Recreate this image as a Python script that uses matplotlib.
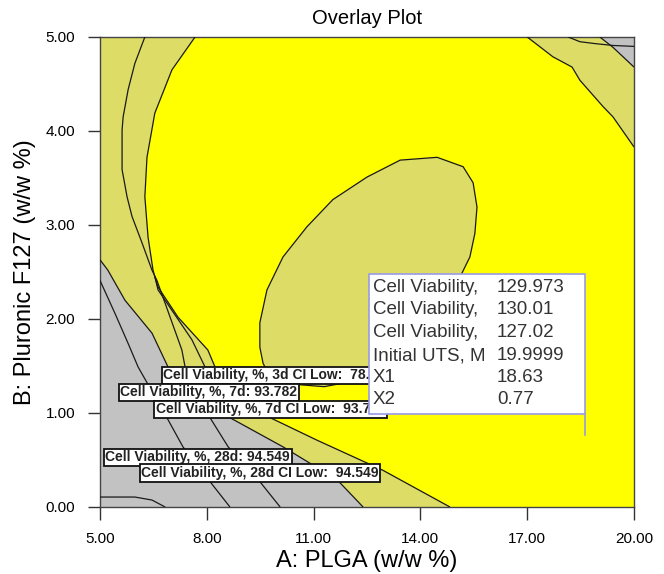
import matplotlib
matplotlib.use('Agg')
import matplotlib.pyplot as plt
from matplotlib.patches import Polygon, Rectangle

plt.rcParams['font.family'] = ['Liberation Sans', 'DejaVu Sans']

# ---------------- data ----------------
x_ticks = [5, 8, 11, 14, 17, 20]
y_ticks = [0, 1, 2, 3, 4, 5]

# left / lower boundary of the bright-yellow sweet spot (top -> bottom)
yel_left_x = [7.67, 7.02, 6.54, 6.32, 6.26, 6.35, 6.49, 6.54, 6.63, 7.19, 8.03, 8.23, 8.90, 9.78, 11.10, 12.95, 14.83]
yel_left_y = [5.00, 4.65, 4.19, 3.72, 3.30, 2.87, 2.52, 2.45, 2.34, 2.02, 1.67, 1.49, 1.22, 0.95, 0.71, 0.39, 0.00]

# upper-right boundary of the sweet spot (top -> right edge)
yel_right_x = [17.00, 17.72, 18.26, 18.48, 19.13, 19.41, 20.00]
yel_right_y = [5.00, 4.79, 4.68, 4.54, 4.26, 4.15, 3.83]

# boundary of the grey (infeasible) lower-left region
gray_x = [5.00, 5.22, 5.70, 6.46, 6.91, 7.80, 8.65, 10.14, 11.66, 12.39]
gray_y = [2.63, 2.52, 2.20, 1.85, 1.49, 1.20, 0.95, 0.64, 0.29, 0.00]

# contour lines inside the grey region
c7_x = [5.00, 5.42, 5.79, 6.07, 6.88, 7.33, 8.09, 8.65]
c7_y = [2.41, 2.06, 1.74, 1.49, 0.95, 0.64, 0.27, 0.00]
c28_x = [6.91, 8.09, 8.60, 9.49, 10.06]
c28_y = [1.49, 0.95, 0.64, 0.27, 0.00]
corner_x = [5.00, 5.98, 6.46, 6.83]
corner_y = [0.106, 0.106, 0.074, 0.00]

# 3d contour lines in the left band
outer_x = [6.26, 5.98, 5.79, 5.65, 5.62, 5.62, 5.76, 5.90, 6.18, 6.46, 6.60, 7.30, 7.39, 7.60]
outer_y = [5.00, 4.72, 4.44, 4.15, 4.01, 3.59, 3.30, 3.09, 2.81, 2.52, 2.41, 1.67, 1.49, 1.30]
band_x = [6.54, 6.63, 7.58, 7.95, 8.30]
band_y = [2.45, 2.31, 1.78, 1.49, 1.30]

# tilted inner ellipse (khaki)
ell_x = [12.40, 13.20, 14.00, 14.70, 15.17, 15.39, 15.53, 15.59, 15.48, 15.20, 14.47, 13.43,
         12.50, 11.54, 10.81, 10.14, 9.69, 9.49, 9.49, 9.58, 9.75, 10.30, 11.30, 12.40]
ell_y = [1.36, 1.52, 1.80, 2.15, 2.49, 2.66, 2.91, 3.19, 3.45, 3.62, 3.72, 3.69,
         3.51, 3.27, 2.98, 2.66, 2.31, 1.96, 1.70, 1.53, 1.40, 1.31, 1.28, 1.36]

# top-right grey corner and contour
tr_gray_x = [19.04, 19.41, 20.00]
tr_gray_y = [5.00, 4.89, 4.68]
tr_line_x = [18.15, 18.48, 18.90, 19.41, 20.00]
tr_line_y = [5.00, 4.95, 4.93, 4.91, 4.90]

# contour labels
label_texts = ["Cell Viability, %, 3d CI Low:  78.5",
               "Cell Viability, %, 7d: 93.782",
               "Cell Viability, %, 7d CI Low:  93.782",
               "Cell Viability, %, 28d: 94.549",
               "Cell Viability, %, 28d CI Low:  94.549"]

# flag
flag_x1 = 18.63
flag_x2 = 0.77
flag_names = ["Cell Viability,", "Cell Viability,", "Cell Viability,", "Initial UTS, M", "X1", "X2"]
flag_values = ["129.973", "130.01", "127.02", "19.9999", "18.63", "0.77"]

# ---------------- drawing ----------------
YELLOW = '#ffff00'
KHAKI = '#dcdc66'
GRAY = '#c2c2c2'
LINE = '#1a1a1a'

fig = plt.figure(figsize=(6.64, 5.74), dpi=100)
ax = fig.add_axes([100/664, 1-507/574, 534/664, 470/574])
ax.set_facecolor(KHAKI)
ax.set_xlim(5, 20)
ax.set_ylim(0, 5)

yel_poly = list(zip(yel_left_x, yel_left_y)) + [(20, 0)] + list(zip(yel_right_x[::-1], yel_right_y[::-1]))
ax.add_patch(Polygon(yel_poly, closed=True, fc=YELLOW, ec='none', zorder=1))
ax.add_patch(Polygon(list(zip(ell_x, ell_y)), closed=True, fc=KHAKI, ec='none', zorder=2))
ax.add_patch(Polygon(list(zip(gray_x, gray_y)) + [(5, 0)], closed=True, fc=GRAY, ec='none', zorder=2))
ax.add_patch(Polygon(list(zip(tr_gray_x, tr_gray_y)) + [(20, 5)], closed=True, fc=GRAY, ec='none', zorder=2))

lw = 0.9
for xs, ys in [(yel_left_x, yel_left_y), (yel_right_x, yel_right_y), (gray_x, gray_y),
               (c7_x, c7_y), (c28_x, c28_y), (corner_x, corner_y), (outer_x, outer_y),
               (band_x, band_y), (ell_x, ell_y), (tr_gray_x, tr_gray_y), (tr_line_x, tr_line_y)]:
    ax.plot(xs, ys, color=LINE, lw=lw, zorder=3, solid_capstyle='butt')

label_pos = [(6.78, 1.40), (5.57, 1.22), (6.56, 1.04), (5.15, 0.53), (6.16, 0.36)]
for (lx, ly), s in zip(label_pos, label_texts):
    ax.text(lx, ly, s, fontsize=10, fontweight='bold', va='center', ha='left', color='#222222',
            bbox=dict(boxstyle='square,pad=0.12', fc='white', ec='#111111', lw=1.3), zorder=5)

# flag box
bx0, by0 = 12.56, flag_x2 + 0.22
ax.add_patch(Rectangle((bx0, by0), flag_x1 - bx0, 1.49, fc='white', ec='#9a9ae6', lw=1.2, zorder=6))
ax.plot([flag_x1, flag_x1], [flag_x2, by0], color='#9a9ae6', lw=1.2, zorder=6)
row_y = [2.33, 2.10, 1.86, 1.61, 1.38, 1.14]
for yy, n, v in zip(row_y, flag_names, flag_values):
    ax.text(12.67, yy, n, fontsize=13.5, va='center', ha='left', color='#333333', zorder=7)
    ax.text(16.15, yy, v, fontsize=13.5, va='center', ha='left', color='#333333', zorder=7)

ax.set_xticks(x_ticks)
ax.set_xticklabels([f"{v:.2f}" for v in x_ticks])
ax.set_yticks(y_ticks)
ax.set_yticklabels([f"{v:.2f}" for v in y_ticks])
ax.tick_params(direction='out', length=9, width=1, color='#333333', labelsize=11, pad=9)
for sp in ax.spines.values():
    sp.set_color('#444444')
    sp.set_linewidth(1)

ax.set_xlabel("A: PLGA (w/w %)", fontsize=17, labelpad=3)
ax.set_ylabel("B: Pluronic F127 (w/w %)", fontsize=17, labelpad=7)
ax.set_title("Overlay Plot", fontsize=14.5, pad=9)

fig.savefig('out.png', dpi=100)
